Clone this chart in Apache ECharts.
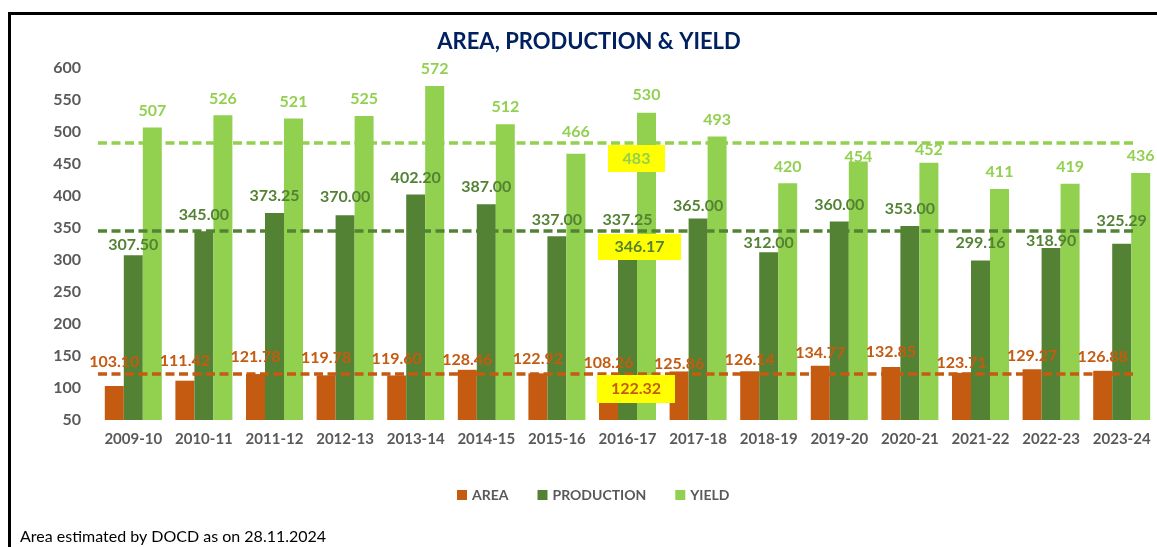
<!DOCTYPE html>
<html>
<head>
<meta charset="utf-8">
<script src="https://cdn.jsdelivr.net/npm/echarts@6/dist/echarts.min.js"></script>
<style>
html,body{margin:0;padding:0;background:#fff;}
#chart{width:1157px;height:547px;}
</style>
</head>
<body>
<div id="chart"></div>
<script>
const categories = ['2009-10','2010-11','2011-12','2012-13','2013-14','2014-15','2015-16','2016-17','2017-18','2018-19','2019-20','2020-21','2021-22','2022-23','2023-24'];
const area = [103.10,111.42,121.78,119.78,119.60,128.46,122.92,108.26,125.86,126.14,134.77,132.85,123.71,129.27,126.88];
const production = [307.50,345.00,373.25,370.00,402.20,387.00,337.00,337.25,365.00,312.00,360.00,353.00,299.16,318.90,325.29];
const yieldVals = [507,526,521,525,572,512,466,530,493,420,454,452,411,419,436];
const yTicks = [50,100,150,200,250,300,350,400,450,500,550,600];
const title = 'AREA, PRODUCTION & YIELD';
const footnote = 'Area estimated by DOCD as on 28.11.2024';

// label vertical nudges (pixels), styling only
const areaDy = [-7,-3,0,0,0,7,3,-3,9,6,4,2,7,4,3];
const prodDy = [7,1,0,-1,0,0,1,1,4,8,0,0,-1,10,-6];
const yieldDy = [0,0,0,0,0,0,-5,-1,0,1,12,4,0,0,0];

const C_AREA = '#C55A11', C_PROD = '#548235', C_YIELD = '#92D050';
const FONT = 'Lato';

const mean = a => a.reduce((s,v)=>s+v,0)/a.length;
const avgArea = mean(area), avgProd = mean(production), avgYield = mean(yieldVals);

function mkData(vals, dy){
  return vals.map((v,i)=>({value:v, label:{offset:[0,dy[i]]}}));
}
function mkLine(avg, color){
  return {
    silent:true, symbol:'none', label:{show:false},
    lineStyle:{color:color, width:3.5, type:[9,4.5], opacity:1},
    emphasis:{disabled:true},
    data:[[{x:98, yAxis:avg},{x:1137, yAxis:avg}]]
  };
}
function mkSeries(name, vals, dy, color, fmt){
  return {
    name:name, type:'bar', barWidth:19, barGap:'0%',
    itemStyle:{color:color},
    data:mkData(vals, dy),
    label:{show:true, position:'top', distance:8, color:color, fontFamily:FONT, fontWeight:'bold', fontSize:16, lineHeight:18,
      formatter:p=>fmt(p.value)},
    markLine:null
  };
}
const sA = mkSeries('AREA', area, areaDy, C_AREA, v=>v.toFixed(2));
const sP = mkSeries('PRODUCTION', production, prodDy, C_PROD, v=>v.toFixed(2));
const sY = mkSeries('YIELD', yieldVals, yieldDy, C_YIELD, v=>String(v));
sA.markLine = mkLine(avgArea, C_AREA);
sP.markLine = mkLine(avgProd, C_PROD);
sY.markLine = mkLine(avgYield, C_YIELD);

function avgBox(x,y,w,h,text,color){
  return [
    {type:'rect', z:100, zlevel:0, shape:{x:x,y:y,width:w,height:h}, style:{fill:'#FFFF00'}},
    {type:'text', z:101, zlevel:0, x:x+w/2, y:y+h/2, style:{text:text, fill:color, font:'bold 16px '+FONT, align:'center', verticalAlign:'middle'}}
  ];
}

const chart = echarts.init(document.getElementById('chart'), null, {renderer:'canvas'});
chart.setOption({
  animation:false,
  backgroundColor:'#ffffff',
  grid:{left:98, right:-4, top:68, bottom:127, containLabel:false},
  legend:{
    data:['AREA','PRODUCTION','YIELD'], left:452, top:483,
    icon:'rect', itemWidth:10, itemHeight:10, itemGap:29,
    textStyle:{color:'#595959', fontFamily:FONT, fontWeight:'bold', fontSize:14}
  },
  xAxis:{type:'category', data:categories,
    axisLine:{show:false}, axisTick:{show:false},
    axisLabel:{color:'#595959', fontFamily:FONT, fontWeight:'bold', fontSize:15, margin:12, interval:0}
  },
  yAxis:{type:'value', min:yTicks[0], max:yTicks[yTicks.length-1], interval:50,
    axisLine:{show:false}, axisTick:{show:false}, splitLine:{show:false},
    axisLabel:{color:'#595959', fontFamily:FONT, fontWeight:'bold', fontSize:16, margin:17}
  },
  series:[sA, sP, sY],
  graphic:[
    {type:'rect', z:-1, shape:{x:9.5,y:13.5,width:1300,height:700}, style:{fill:'none', stroke:'#000', lineWidth:3}},
    {type:'text', x:589, y:42, style:{text:title, fill:'#002060', font:'bold 22px '+FONT, align:'center', verticalAlign:'middle'}},
    {type:'text', x:20, y:537, style:{text:footnote, fill:'#000', font:'16px '+FONT, align:'left', verticalAlign:'middle'}}
  ].concat(
    avgBox(608,145,57,27,String(Math.round(avgYield)),C_YIELD),
    avgBox(598,234,83,26,avgProd.toFixed(2),C_PROD),
    avgBox(597,375,78,28,avgArea.toFixed(2),C_AREA)
  )
});
</script>
</body>
</html>
